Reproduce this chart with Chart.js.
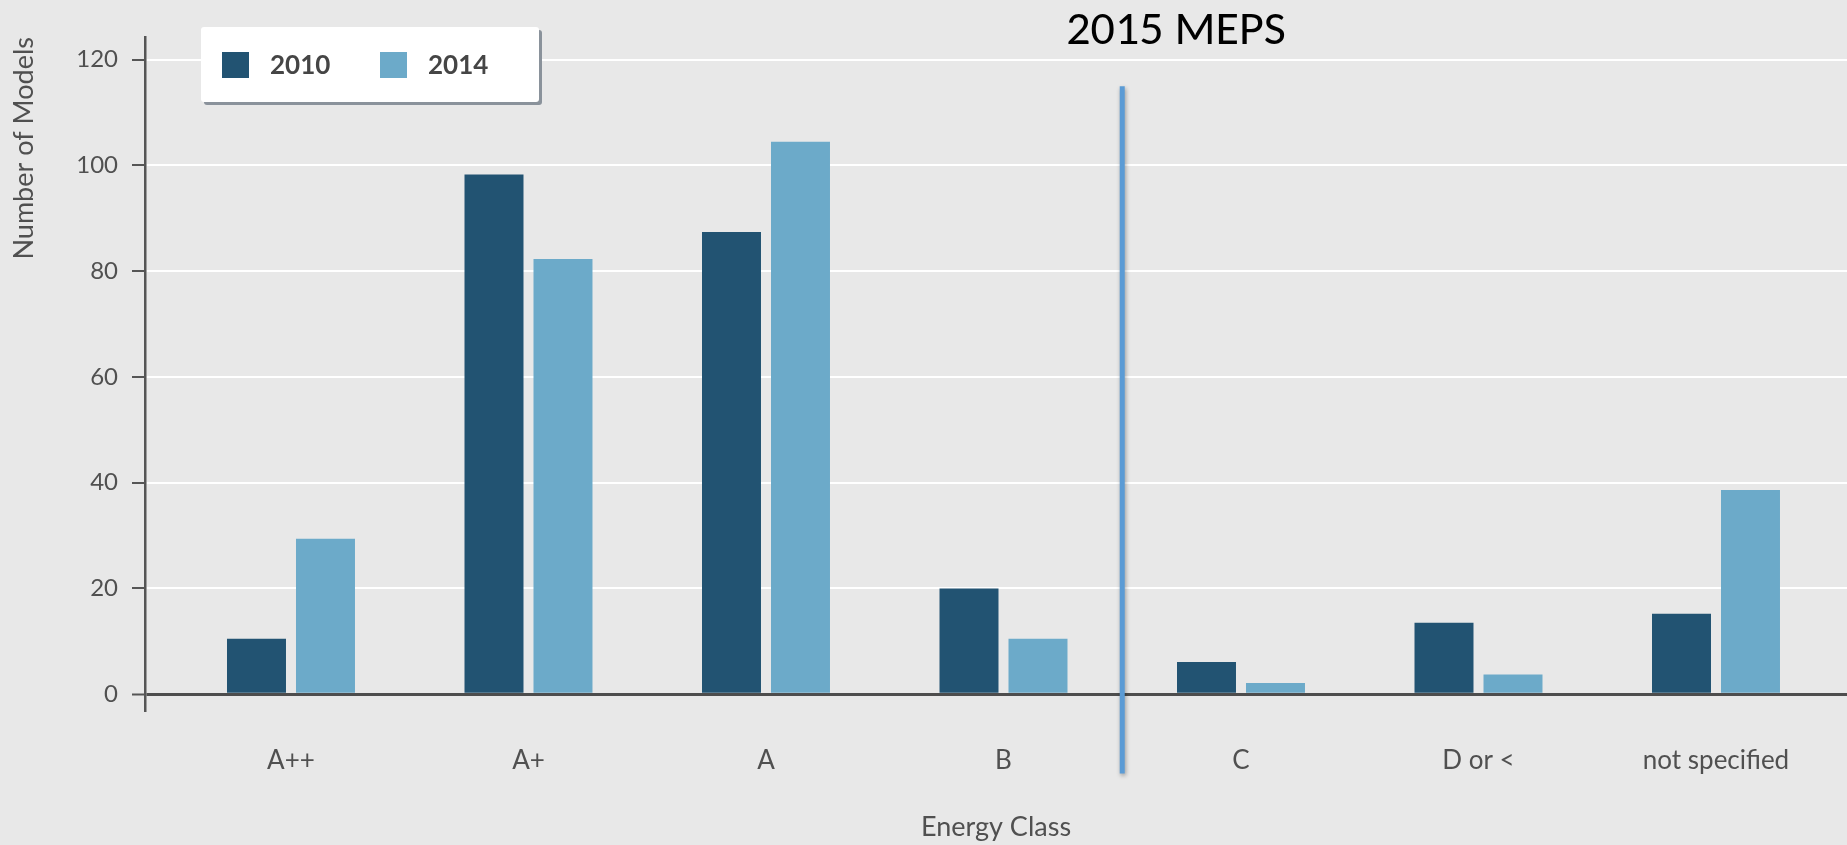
<!DOCTYPE html>
<html>
<head>
<meta charset="utf-8">
<script src="https://cdn.jsdelivr.net/npm/chart.js@4.4.0/dist/chart.umd.min.js"></script>
<style>
  html, body { margin: 0; padding: 0; background: #e8e8e8; }
  #wrap { width: 1847px; height: 845px; position: relative; }
</style>
</head>
<body>
<div id="wrap"><canvas id="mycanvas"></canvas></div>
<script>
// values
var categories = ['A++', 'A+', 'A', 'B', 'C', 'D or <', 'not specified'];
var models2010 = [10.5, 98.3, 87.4, 20, 6.1, 13.5, 15.2];
var models2014 = [29.4, 82.3, 104.5, 10.5, 2.1, 3.7, 38.6];
var yTicks = [0, 20, 40, 60, 80, 100, 120];

// MEPS marker sits between B and C
var mepsAt = 3.5;
var mepsTop = 115;
var mepsBottom = -15;

var FONT = 'Lato, "Open Sans", sans-serif';
var TEXT = '#505050';

function points(vals) {
	return vals.map(function(v, i) { return {x: i, y: v}; });
}

var overlay = {
	id: 'overlay',
	afterDatasetsDraw: function(chart) {
		var ctx = chart.ctx, x = chart.scales.x, y = chart.scales.y;
		var px = x.getPixelForValue(mepsAt);
		ctx.save();
		ctx.shadowColor = 'rgba(0,0,0,0.35)';
		ctx.shadowBlur = 4;
		ctx.shadowOffsetX = 1;
		ctx.shadowOffsetY = 2;
		ctx.strokeStyle = '#5b9bd5';
		ctx.lineWidth = 5;
		ctx.beginPath();
		ctx.moveTo(px, y.getPixelForValue(mepsTop));
		ctx.lineTo(px, y.getPixelForValue(mepsBottom));
		ctx.stroke();
		ctx.restore();
	},
	afterDraw: function(chart) {
		var ctx = chart.ctx;
		ctx.save();
		// annotation text
		ctx.fillStyle = '#000';
		ctx.font = '48px Carlito, "Liberation Sans", sans-serif';
		ctx.textAlign = 'center';
		ctx.textBaseline = 'alphabetic';
		ctx.fillText('2015 MEPS', 1176, 44);

		// legend box
		ctx.fillStyle = '#8a929b';
		ctx.beginPath();
		ctx.roundRect(204, 30, 338, 75, 3);
		ctx.fill();
		ctx.fillStyle = '#ffffff';
		ctx.beginPath();
		ctx.roundRect(201, 27, 338, 75, 3);
		ctx.fill();

		var xs = [222, 380];
		ctx.font = 'bold 26px ' + FONT;
		ctx.textAlign = 'left';
		ctx.textBaseline = 'middle';
		chart.data.datasets.forEach(function(ds, i) {
			ctx.fillStyle = ds.backgroundColor;
			ctx.fillRect(xs[i], 52, 27, 26);
			ctx.fillStyle = '#454545';
			ctx.fillText(ds.label, xs[i] + 48, 66);
		});
		ctx.restore();
	}
};

var chartdata = {
	datasets: [
		{
			label: '2010',
			backgroundColor: '#225372',
			data: points(models2010)
		},
		{
			label: '2014',
			backgroundColor: '#6caac9',
			data: points(models2014)
		}
	]
};

var ctx = document.getElementById('mycanvas');

var BarGraph = new Chart(ctx, {
	type: 'bar',
	data: chartdata,
	plugins: [overlay],
	options: {
		responsive: true,
		maintainAspectRatio: false,
		animation: false,
		devicePixelRatio: 1,
		categoryPercentage: 0.581,
		barPercentage: 0.855,
		layout: { padding: { top: 37, left: 0, right: 0, bottom: 0 } },
		plugins: {
			legend: { display: false },
			tooltip: { enabled: false }
		},
		scales: {
			x: {
				type: 'linear',
				offset: false,
				min: -0.6147,
				max: 6.5516,
				afterBuildTicks: function(scale) {
					scale.ticks = categories.map(function(c, i) { return {value: i}; });
				},
				afterFit: function(scale) { scale.height = 135; },
				grid: { display: false, drawTicks: false, offset: false },
				border: { display: false },
				ticks: {
					autoSkip: false,
					maxRotation: 0,
					padding: 35,
					color: TEXT,
					font: { family: FONT, size: 26 },
					callback: function(v) { return categories[v]; }
				},
				title: {
					display: true,
					text: 'Energy Class',
					color: TEXT,
					font: { family: FONT, size: 27 },
					padding: { top: 0, bottom: 2 }
				}
			},
			y: {
				min: -3,
				max: 124.3,
				afterBuildTicks: function(scale) {
					scale.ticks = yTicks.map(function(v) { return {value: v}; });
				},
				afterFit: function(scale) { scale.width = 145; },
				border: { display: true, color: '#555555', width: 2.5 },
				grid: {
					color: function(c) { return c.tick && c.tick.value === 0 ? '#4d4d4d' : '#ffffff'; },
					lineWidth: function(c) { return c.tick && c.tick.value === 0 ? 3 : 2; },
					tickColor: '#555555',
					tickWidth: 2,
					tickLength: 13
				},
				ticks: {
					padding: 14,
					color: TEXT,
					font: { family: FONT, size: 24 }
				},
				title: {
					display: true,
					text: 'Number of Models',
					align: 'end',
					color: TEXT,
					font: { family: FONT, size: 27 },
					padding: { top: 8, bottom: 0 }
				}
			}
		}
	}
});
</script>
</body>
</html>
